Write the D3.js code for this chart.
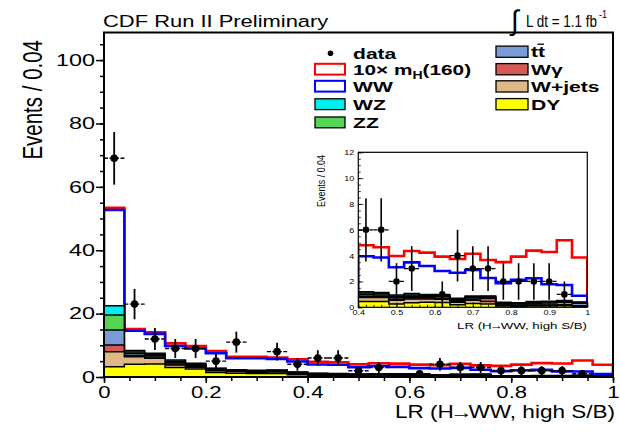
<!DOCTYPE html>
<html><head><meta charset="utf-8">
<script src="https://cdn.jsdelivr.net/npm/d3@7"></script>
<style>
body{margin:0;background:#fff;}
svg{display:block;font-family:"Liberation Sans",Arial,Helvetica,sans-serif;}
</style>
</head><body><svg id="c" width="620" height="435"></svg>
<script>
// ---------------- data ----------------
const binLow = [0,0.04,0.08,0.12,0.16,0.20,0.24,0.28,0.32,0.36,0.40,0.44,0.48,0.52,0.56,0.60,0.64,0.68,0.72,0.76,0.80,0.84,0.88,0.92,0.96];
const binWidth = 0.04;
const dy      = [3.2,4.0,4.1,3.0,2.5,1.4,1.2,1.1,1.1,0.7,0.45,0.45,0.25,0.35,0.4,0.38,0.2,0.3,0.25,0.1,0.08,0.1,0.1,0.12,0.05];
const wjets   = [4.8,2.4,1.8,0.8,0.6,0.6,0.5,0.4,0.5,0.4,0.3,0.3,0.3,0.3,0.25,0.25,0.2,0.25,0.2,0.05,0.05,0.05,0.05,0.05,0.05];
const wgamma  = [2.1,0.4,0.4,0.3,0.2,0.2,0.1,0.1,0.1,0.1,0.1,0.08,0.08,0.08,0.08,0.08,0.05,0.1,0.25,0.02,0.02,0.02,0.02,0.02,0.02];
const ttbar   = [4.7,0.6,0.5,0.5,0.4,0.3,0.25,0.25,0.25,0.2,0.15,0.12,0.12,0.13,0.12,0.12,0.1,0.1,0.08,0.1,0.1,0.15,0.17,0.2,0.2];
const zz      = [4.8,0.5,0.4,0.4,0.3,0.15,0.15,0.15,0.15,0.1,0.11,0.11,0.1,0.1,0.08,0.08,0.08,0.07,0.05,0.07,0.06,0.07,0.07,0.08,0.05];
const wz      = [2.9,0.5,0.3,0.4,0.3,0.15,0.1,0.1,0.1,0.1,0.1,0.08,0.1,0.1,0.07,0.07,0.07,0.06,0.05,0.05,0.05,0.05,0.05,0.05,0.04];
const ww      = [30.2,6.2,6.1,4.4,4.7,4.7,3.6,3.8,3.5,3.3,2.74,2.71,2.15,2.42,2.2,1.83,1.98,2.01,1.39,1.47,1.76,1.81,1.32,1.21,0.49];
const higgs10 = [0.7,0.5,0.5,0.8,0.8,0.7,0.5,0.5,0.4,0.7,0.85,0.8,0.87,0.88,1.03,1.11,1.06,1.26,1.39,1.64,1.8,2.14,2.5,3.46,2.95];
const dataCounts = [69,23,12,9,9,5,11,0,8,4,6,6,2,3,0,1,4,3,3,2,2,2,2,1,0];

const xTicksMain = [0,0.2,0.4,0.6,0.8,1];
const xTickLabelsMain = ["0","0.2","0.4","0.6","0.8","1"];
const yTicksMain = [0,20,40,60,80,100];
const xTicksInset = [0.4,0.5,0.6,0.7,0.8,0.9,1];
const xTickLabelsInset = ["0.4","0.5","0.6","0.7","0.8","0.9","1"];
const yTicksInset = [0,2,4,6,8,10,12];

const layers = [
  {name:"DY",      vals:dy,      fill:"#ffff00", stroke:"#000", sw:1.5},
  {name:"W+jets",  vals:wjets,   fill:"#deb887", stroke:"#000", sw:1.5},
  {name:"Wγ",      vals:wgamma,  fill:"#d45a52", stroke:"#000", sw:1.5},
  {name:"tt",      vals:ttbar,   fill:"#7b9bd6", stroke:"#000", sw:1.5},
  {name:"ZZ",      vals:zz,      fill:"#55d455", stroke:"#000", sw:1.5},
  {name:"WZ",      vals:wz,      fill:"#00f0f0", stroke:"#000", sw:1.5},
  {name:"WW",      vals:ww,      fill:"#ffffff", stroke:"#0000ff", sw:2.6},
  {name:"sig",     vals:higgs10, fill:"#ffffff", stroke:"#ff0000", sw:2.6}
];
const cum = [];
layers.forEach((L,i)=>{
  cum.push(L.vals.map((v,j)=> v + (i>0 ? cum[i-1][j] : 0)));
});

const svg = d3.select("#c");
svg.append("rect").attr("width",620).attr("height",435).attr("fill","#fff");
const defs = svg.append("defs");

function stxt(parent, x, y, sx, str, size, anchor, weight){
  const g = parent.append("g").attr("transform",`translate(${x},${y}) scale(${sx},1)`);
  const t = g.append("text").attr("font-size",size).attr("text-anchor",anchor||"start")
    .attr("font-weight",weight||"normal").attr("fill","#000");
  if(str!==null) t.text(str);
  return t;
}

function drawPanel(g, x, y, firstBin, clipId, markerR, ebw){
  const [x0,x1] = x.range(), [y0,y1] = y.range();
  defs.append("clipPath").attr("id",clipId).append("rect")
    .attr("x",x0).attr("y",y1).attr("width",x1-x0).attr("height",y0-y1);
  const cg = g.append("g").attr("clip-path",`url(#${clipId})`);
  const line = d3.line().x(d=>x(d[0])).y(d=>y(d[1]));
  for(let i=layers.length-1;i>=0;i--){
    const L = layers[i];
    const pts = [];
    for(let j=firstBin;j<binLow.length;j++){
      pts.push([binLow[j], cum[i][j]]);
      pts.push([binLow[j]+binWidth, cum[i][j]]);
    }
    const poly = [[binLow[firstBin],0], ...pts, [binLow[binLow.length-1]+binWidth,0]];
    cg.append("path").attr("d",line(poly)).attr("fill",L.fill)
      .attr("stroke",L.stroke).attr("stroke-width",L.sw).attr("stroke-linejoin","miter");
  }
  for(let j=firstBin;j<binLow.length;j++){
    const n = dataCounts[j];
    if(n<=0) continue;
    const c = binLow[j]+binWidth/2, e = Math.sqrt(n);
    g.append("line").attr("x1",x(c)).attr("x2",x(c)).attr("y1",y(n-e)).attr("y2",y(n+e))
      .attr("stroke","#000").attr("stroke-width",ebw);
    g.append("line").attr("x1",x(c-binWidth/2)).attr("x2",x(c+binWidth/2)).attr("y1",y(n)).attr("y2",y(n))
      .attr("stroke","#000").attr("stroke-width",ebw*0.8).attr("stroke-dasharray","4,1.5");
    g.append("circle").attr("cx",x(c)).attr("cy",y(n)).attr("r",markerR).attr("fill","#000");
  }
}

// ---------------- main panel ----------------
const xM = d3.scaleLinear().domain([0,1]).range([104,613]);
const yM = d3.scaleLinear().domain([0,108.7]).range([377,32.5]);
const main = svg.append("g");
drawPanel(main, xM, yM, 0, "clipMain", 3.8, 1.8);

const axL = main.append("g").attr("transform","translate(104,0)")
  .call(d3.axisLeft(yM).tickValues(d3.range(0,106,5)).tickSize(4).tickFormat(""));
const axL2 = main.append("g").attr("transform","translate(104,0)")
  .call(d3.axisLeft(yM).tickValues(yTicksMain).tickSize(8).tickPadding(3).tickFormat(d3.format("d")));
const axB = main.append("g").attr("transform","translate(0,377)")
  .call(d3.axisBottom(xM).tickValues(d3.range(0,1.001,0.05)).tickSize(4).tickFormat(""));
const axB2 = main.append("g").attr("transform","translate(0,377)")
  .call(d3.axisBottom(xM).tickValues(xTicksMain).tickSize(6).tickPadding(4).tickFormat((d,i)=>xTickLabelsMain[i]));
[axL,axL2,axB,axB2].forEach(a=>{a.select(".domain").remove(); a.selectAll("line").attr("stroke","#000").attr("stroke-width",1.5);});
axL2.selectAll("text").attr("font-size",16.5).attr("font-family","Liberation Sans, Arial, sans-serif")
  .attr("fill","#000").attr("x",-9/1.42).attr("transform","scale(1.42,1)");
axB2.selectAll("text").attr("font-size",16).attr("font-family","Liberation Sans, Arial, sans-serif")
  .attr("fill","#000").attr("transform","scale(1.38,1)").attr("dy","0.71em");

main.append("rect").attr("x",104).attr("y",32.5).attr("width",509).attr("height",344.5)
  .attr("fill","none").attr("stroke","#000").attr("stroke-width",2);

// titles
stxt(svg,103,26.5,1.29,"CDF Run II Preliminary",17,"start");
stxt(svg,511,30,1.0,"∫",28,"start");
svg.append("text").attr("x",526).attr("y",26.5).attr("font-size",16)
  .attr("textLength",71).attr("lengthAdjust","spacingAndGlyphs").text("L dt = 1.1 fb");
svg.append("text").attr("x",599).attr("y",18).attr("font-size",10)
  .attr("textLength",8).attr("lengthAdjust","spacingAndGlyphs").text("-1");

// y title main
svg.append("g").attr("transform","translate(42,40) scale(1.36,1) rotate(-90)")
  .append("text").attr("font-size",20.5).attr("text-anchor","end").text("Events / 0.04");
// x title main
const xt = svg.append("text").attr("x",395).attr("y",418).attr("font-size",17.5)
  .attr("textLength",220).attr("lengthAdjust","spacingAndGlyphs");
xt.append("tspan").text("LR (H");
xt.append("tspan").attr("dx",-3).text("→");
xt.append("tspan").attr("dx",-3).text("WW, high S/B)");

// ---------------- legend ----------------
const leg = svg.append("g");
const legL = [
  {label:"data", type:"marker", cy:53.3},
  {label:"sig", type:"box", fill:"#fff", stroke:"#ff0000", cy:69.2},
  {label:"WW", type:"box", fill:"#fff", stroke:"#0000ff", cy:86.2},
  {label:"WZ", type:"box", fill:"#00f0f0", stroke:"#000", cy:104.2},
  {label:"ZZ", type:"box", fill:"#55d455", stroke:"#000", cy:122.4}
];
const legR = [
  {label:"tt", fill:"#7b9bd6", cy:51.7},
  {label:"Wγ", fill:"#d45a52", cy:69.2},
  {label:"W+jets", fill:"#deb887", cy:86.4},
  {label:"DY", fill:"#ffff00", cy:104.2}
];
legL.forEach(e=>{
  if(e.type==="marker"){
    leg.append("circle").attr("cx",330.5).attr("cy",e.cy).attr("r",2.8).attr("fill","#000");
  } else {
    leg.append("rect").attr("x",315).attr("y",e.cy-5.4).attr("width",30).attr("height",10.8)
      .attr("fill",e.fill).attr("stroke",e.stroke).attr("stroke-width",e.stroke==="#000"?1.3:2);
  }
  if(e.label==="sig"){
    const t = stxt(leg,353,e.cy+5.5,1.34,null,15.5,"start","bold");
    t.append("tspan").text("10× m");
    t.append("tspan").attr("font-size",10.5).attr("dy",4).text("H");
    t.append("tspan").attr("dy",-4).text("(160)");
  } else {
    stxt(leg,353,e.cy+5.5,1.36,e.label,15.5,"start","bold");
  }
});
legR.forEach(e=>{
  leg.append("rect").attr("x",496).attr("y",e.cy-5.6).attr("width",32).attr("height",11.2)
    .attr("fill",e.fill).attr("stroke","#000").attr("stroke-width",1.3);
  stxt(leg,531,e.cy+5.5,1.36,e.label,15.5,"start","bold");
  if(e.label==="tt"){
    leg.append("line").attr("x1",537.5).attr("x2",544).attr("y1",e.cy-7.5).attr("y2",e.cy-7.5)
      .attr("stroke","#000").attr("stroke-width",1.3);
  }
});

// ---------------- inset ----------------
const xI = d3.scaleLinear().domain([0.4,1]).range([358.3,587.3]);
const yI = d3.scaleLinear().domain([0,12]).range([307.3,152.3]);
const inset = svg.append("g");
inset.append("rect").attr("x",358.3).attr("y",152.3).attr("width",229).attr("height",155).attr("fill","#fff");
drawPanel(inset, xI, yI, 10, "clipInset", 3.3, 1.6);
const iL = inset.append("g").attr("transform","translate(358.3,0)")
  .call(d3.axisLeft(yI).tickValues(yTicksInset).tickSizeInner(-5).tickSizeOuter(0).tickPadding(3).tickFormat(d3.format("d")));
const iL2 = inset.append("g").attr("transform","translate(358.3,0)")
  .call(d3.axisLeft(yI).tickValues(d3.range(0,12.01,0.5)).tickSizeInner(-2.5).tickSizeOuter(0).tickFormat(""));
const iB = inset.append("g").attr("transform","translate(0,307.3)")
  .call(d3.axisBottom(xI).tickValues(xTicksInset).tickSizeInner(-5).tickSizeOuter(0).tickPadding(2).tickFormat((d,i)=>xTickLabelsInset[i]));
const iB2 = inset.append("g").attr("transform","translate(0,307.3)")
  .call(d3.axisBottom(xI).tickValues(d3.range(0.4,1.001,0.02)).tickSizeInner(-2.5).tickSizeOuter(0).tickFormat(""));
[iL,iL2,iB,iB2].forEach(a=>{a.select(".domain").remove(); a.selectAll("line").attr("stroke","#000").attr("stroke-width",0.8);});
iL.selectAll("text").attr("font-size",7.5).attr("font-family","Liberation Sans, Arial, sans-serif")
  .attr("fill","#000").attr("x",-4/1.2).attr("transform","scale(1.2,1)");
iB.selectAll("text").attr("font-size",7.5).attr("font-family","Liberation Sans, Arial, sans-serif")
  .attr("fill","#000").attr("transform","scale(1.2,1)");
inset.append("rect").attr("x",358.3).attr("y",152.3).attr("width",229).attr("height",155)
  .attr("fill","none").attr("stroke","#000").attr("stroke-width",1.2);
svg.append("g").attr("transform","translate(325,155) scale(1.3,1) rotate(-90)")
  .append("text").attr("font-size",8.9).attr("text-anchor","end").text("Events / 0.04");
const it = svg.append("text").attr("x",457).attr("y",328.5).attr("font-size",9.3)
  .attr("textLength",130).attr("lengthAdjust","spacingAndGlyphs");
it.append("tspan").text("LR (H");
it.append("tspan").attr("dx",-1.5).text("→");
it.append("tspan").attr("dx",-1.5).text("WW, high S/B)");
</script>
</body></html>
